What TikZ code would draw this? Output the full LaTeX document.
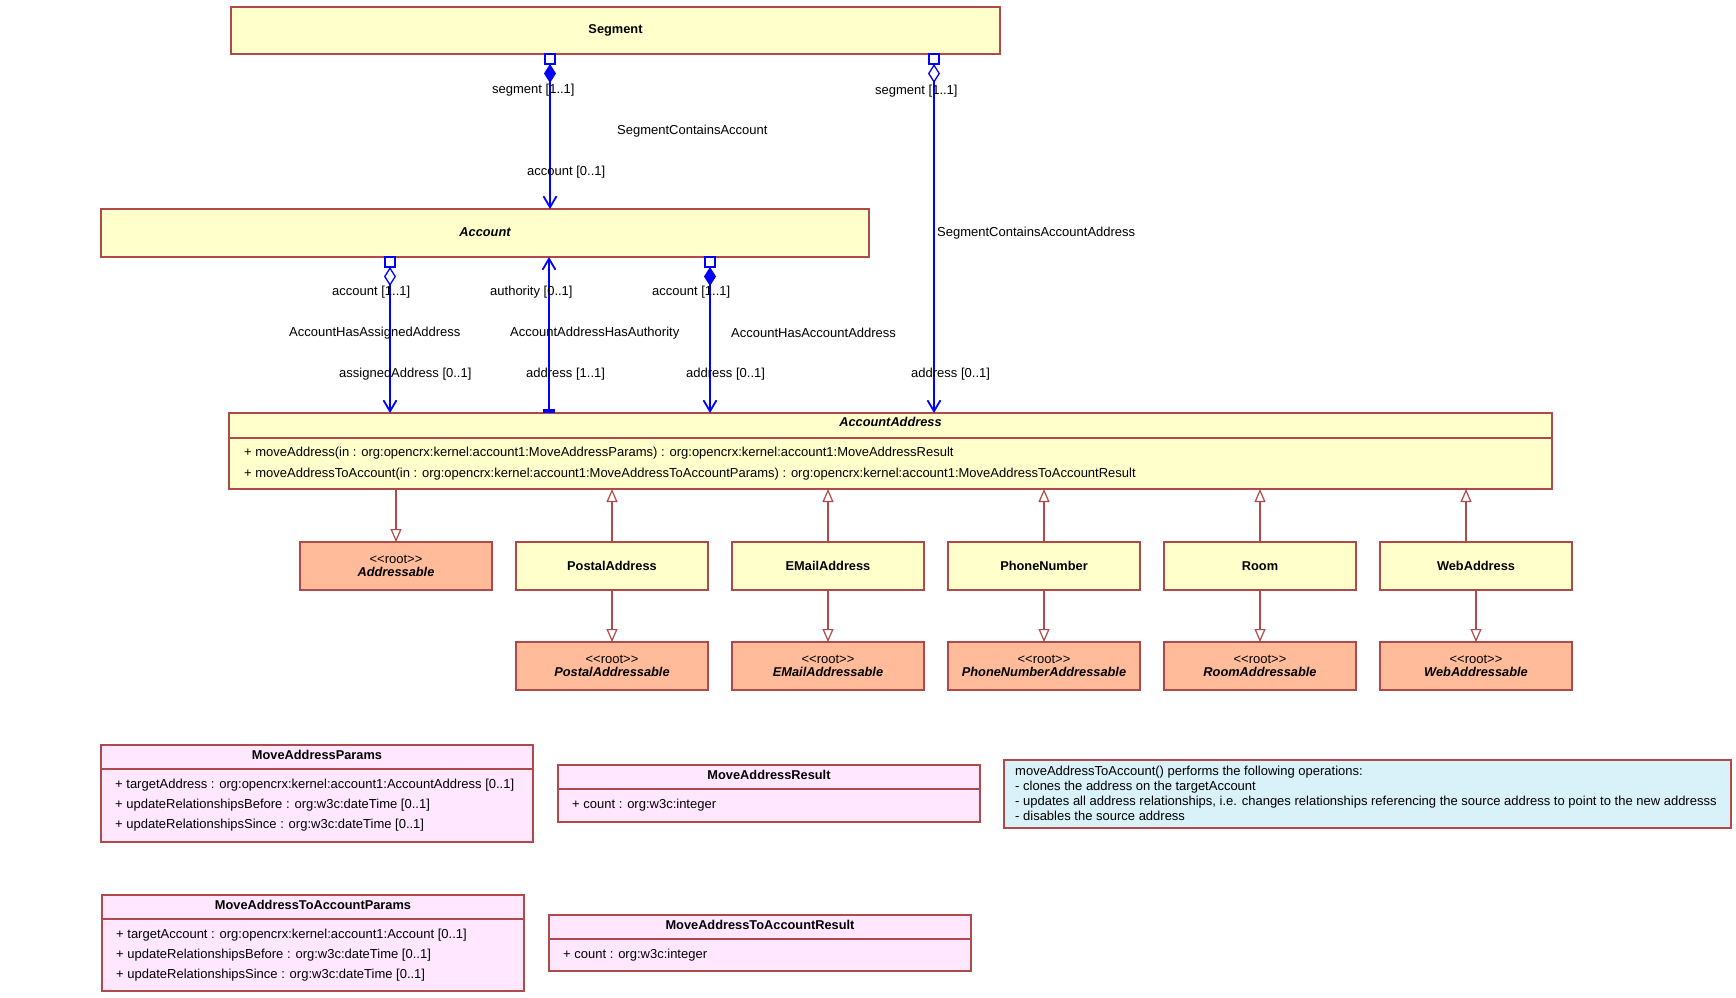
\documentclass[tikz,border=0pt]{standalone}
\usepackage{fontspec}
\setmainfont{Liberation Sans}
\usetikzlibrary{
  arrows.meta,
  positioning,
  calc
}
\definecolor{umlred}{HTML}{B04A4A}
\definecolor{classyellow}{HTML}{FFFFCC}
\definecolor{rootsalmon}{HTML}{FFBB9A}
\definecolor{structpink}{HTML}{FFE8FF}
\definecolor{notecyan}{HTML}{D9F1F8}
\definecolor{assocblue}{HTML}{0000FF}
\newcommand{\umlfont}{\fontsize{13}{15}\selectfont}
\newcommand{\clsfont}{\fontsize{12.8}{13}\selectfont}
\newcommand{\rootname}[1]{{\fontsize{13}{13}\selectfont{<}{<}root{>}{>}}\\\textbf{\textit{#1}}}

\begin{document}
\begin{tikzpicture}[
  x=1pt, y=1pt,
  node distance=52pt and 24pt,
  classbox/.style={
    draw=umlred, fill=classyellow, line width=1.2pt, outer sep=0pt, inner sep=0pt,
    minimum width=192pt, minimum height=48pt, align=center, font=\clsfont,
  },
  rootbox/.style={classbox, fill=rootsalmon},
  structbox/.style={classbox, fill=structpink},
  notebox/.style={classbox, fill=notecyan},
  clsname/.style={font=\clsfont\bfseries},
  absname/.style={font=\clsfont\bfseries\itshape},
  member/.style={font=\umlfont, anchor=west, inner sep=0pt},
  rolelabel/.style={font=\umlfont, anchor=west, inner sep=0pt},
  compsep/.style={draw=umlred, line width=1.2pt},
  assoc/.style={draw=assocblue, line width=1.3pt},
  qualsq/.style={
    draw=assocblue, fill=white, line width=1.2pt, minimum size=10pt,
    inner sep=0pt, outer sep=0pt, anchor=north,
  },
  compend/.style={{Diamond[length=19pt,width=12pt]}-{Straight Barb[length=11pt,width=13pt,line width=1.8pt]}},
  aggend/.style={{Diamond[open,length=19pt,width=12pt]}-{Straight Barb[length=11pt,width=13pt,line width=1.8pt]}},
  general/.style={draw=umlred, line width=1.2pt, -{Triangle[open,length=13pt,width=11pt]}},
]
\useasboundingbox (0,0) rectangle (1736,-997);

% Segment and Account
\node[classbox, clsname, minimum width=769pt, minimum height=47pt] (segment) at (615.5,-30.5) {\raisebox{1pt}{Segment}};
\node[classbox, absname, minimum width=768pt, minimum height=48pt] (account) at (485,-233) {\raisebox{2pt}{Account}};

% AccountAddress with its operations
\node[classbox, minimum width=1323pt, minimum height=76pt] (accaddr) at (890.5,-451) {};
\node[absname] (accaddr-title) at ([yshift=-9pt]accaddr.north) {AccountAddress};
\draw[compsep] ([yshift=-25pt]accaddr.north west) -- ([yshift=-25pt]accaddr.north east);
\node[member] (accaddr-op1) at ([xshift=15pt,yshift=-40pt]accaddr.north west)
  {+ moveAddress(in : org:opencrx:kernel:account1:MoveAddressParams) : org:opencrx:kernel:account1:MoveAddressResult};
\node[member] (accaddr-op2) at ([xshift=15pt,yshift=-61pt]accaddr.north west)
  {+ moveAddressToAccount(in : org:opencrx:kernel:account1:MoveAddressToAccountParams) : org:opencrx:kernel:account1:MoveAddressToAccountResult};

% address kinds
\node[rootbox] (addressable) at (396,-566) {\rootname{Addressable}};
\node[classbox, clsname, right=of addressable] (postal) {PostalAddress};
\node[classbox, clsname, right=of postal] (email) {EMailAddress};
\node[classbox, clsname, right=of email] (phone) {PhoneNumber};
\node[classbox, clsname, right=of phone] (room) {Room};
\node[classbox, clsname, right=of room] (web) {WebAddress};
\node[rootbox, below=of postal] (postalroot) {\rootname{PostalAddressable}};
\node[rootbox, below=of email] (emailroot) {\rootname{EMailAddressable}};
\node[rootbox, below=of phone] (phoneroot) {\rootname{PhoneNumberAddressable}};
\node[rootbox, below=of room] (roomroot) {\rootname{RoomAddressable}};
\node[rootbox, below=of web] (webroot) {\rootname{WebAddressable}};

% generalizations
\draw[general] (accaddr.south -| addressable) -- (addressable.north);
\draw[general] (postal.north) -- (postal.north |- accaddr.south);
\draw[general] (email.north) -- (email.north |- accaddr.south);
\draw[general] (phone.north) -- (phone.north |- accaddr.south);
\draw[general] (room.north) -- (room.north |- accaddr.south);
\draw[general] ([xshift=-10pt]web.north) -- ([xshift=-10pt]web.north |- accaddr.south);
\draw[general] (postal.south) -- (postalroot.north);
\draw[general] (email.south) -- (emailroot.north);
\draw[general] (phone.south) -- (phoneroot.north);
\draw[general] (room.south) -- (roomroot.north);
\draw[general] (web.south) -- (webroot.north);

% associations
\node[qualsq] (segq1) at (550,0 |- segment.south) {};
\node[qualsq] (segq2) at (934,0 |- segment.south) {};
\node[qualsq] (accq1) at (390,0 |- account.south) {};
\node[qualsq] (accq2) at (710,0 |- account.south) {};
\draw[assoc, compend] (segq1.south) -- (segq1.south |- account.north);
\draw[assoc, aggend] (segq2.south) -- (segq2.south |- accaddr.north);
\draw[assoc, aggend] (accq1.south) -- (accq1.south |- accaddr.north);
\draw[assoc, compend] (accq2.south) -- (accq2.south |- accaddr.north);
\draw[assoc, {Rectangle[length=4pt,width=12pt]}-{Straight Barb[length=11pt,width=13pt,line width=1.8pt]}]
  (549,0 |- accaddr.north) -- (549,0 |- account.south);

% association labels
\node[rolelabel] (l-seg1) at (492,-90) {segment [1..1]};
\node[rolelabel] (l-seg2) at (875,-91) {segment [1..1]};
\node[rolelabel] (l-sca) at (617,-131) {SegmentContainsAccount};
\node[rolelabel] (l-acc0) at (527,-172) {account [0..1]};
\node[rolelabel] (l-scaa) at (937,-233) {SegmentContainsAccountAddress};
\node[rolelabel] (l-acc1) at (332,-292) {account [1..1]};
\node[rolelabel] (l-auth) at (490,-292) {authority [0..1]};
\node[rolelabel] (l-acc2) at (652,-292) {account [1..1]};
\node[rolelabel] (l-ahasa) at (289,-333) {AccountHasAssignedAddress};
\node[rolelabel] (l-aahau) at (510,-333) {AccountAddressHasAuthority};
\node[rolelabel] (l-ahaa) at (731,-333) {AccountHasAccountAddress};
\node[rolelabel] (l-assig) at (339,-374) {assignedAddress [0..1]};
\node[rolelabel] (l-addr1) at (526,-374) {address [1..1]};
\node[rolelabel] (l-addr2) at (686,-374) {address [0..1]};
\node[rolelabel] (l-addr3) at (911,-374) {address [0..1]};

% operation parameter and result structures
\node[structbox, minimum width=432pt, minimum height=97pt] (mapar) at (317,-793.5) {};
\node[clsname] (mapar-title) at ([yshift=-10pt]mapar.north) {MoveAddressParams};
\draw[compsep] ([yshift=-24pt]mapar.north west) -- ([yshift=-24pt]mapar.north east);
\node[member] (mapar-a1) at ([xshift=14pt,yshift=-40pt]mapar.north west) {+ targetAddress : org:opencrx:kernel:account1:AccountAddress [0..1]};
\node[member] (mapar-a2) at ([xshift=14pt,yshift=-60pt]mapar.north west) {+ updateRelationshipsBefore : org:w3c:dateTime [0..1]};
\node[member] (mapar-a3) at ([xshift=14pt,yshift=-80pt]mapar.north west) {+ updateRelationshipsSince : org:w3c:dateTime [0..1]};

\node[structbox, minimum width=422pt, minimum height=57pt] (mares) at (769,-793.5) {};
\node[clsname] (mares-title) at ([yshift=-10pt]mares.north) {MoveAddressResult};
\draw[compsep] ([yshift=-24pt]mares.north west) -- ([yshift=-24pt]mares.north east);
\node[member] (mares-a1) at ([xshift=14pt,yshift=-40pt]mares.north west) {+ count : org:w3c:integer};

\node[structbox, minimum width=422pt, minimum height=96pt] (matapar) at (313,-943) {};
\node[clsname] (matapar-title) at ([yshift=-10pt]matapar.north) {MoveAddressToAccountParams};
\draw[compsep] ([yshift=-24pt]matapar.north west) -- ([yshift=-24pt]matapar.north east);
\node[member] (matapar-a1) at ([xshift=14pt,yshift=-40pt]matapar.north west) {+ targetAccount : org:opencrx:kernel:account1:Account [0..1]};
\node[member] (matapar-a2) at ([xshift=14pt,yshift=-60pt]matapar.north west) {+ updateRelationshipsBefore : org:w3c:dateTime [0..1]};
\node[member] (matapar-a3) at ([xshift=14pt,yshift=-80pt]matapar.north west) {+ updateRelationshipsSince : org:w3c:dateTime [0..1]};

\node[structbox, minimum width=422pt, minimum height=56pt] (matares) at (760,-943) {};
\node[clsname] (matares-title) at ([yshift=-10pt]matares.north) {MoveAddressToAccountResult};
\draw[compsep] ([yshift=-24pt]matares.north west) -- ([yshift=-24pt]matares.north east);
\node[member] (matares-a1) at ([xshift=14pt,yshift=-40pt]matares.north west) {+ count : org:w3c:integer};

% note
\node[notebox, minimum width=727pt, minimum height=68pt] (note) at (1367.5,-794) {};
\node[member, anchor=north west, align=left, font=\fontsize{13}{15}\selectfont] (note-text) at ([xshift=11pt,yshift=-6pt]note.north west)
  {moveAddressToAccount() performs the following operations:\\
   - clones the address on the targetAccount\\
   - updates all address relationships, i.e. changes relationships referencing the source address to point to the new addresss\\
   - disables the source address};

\end{tikzpicture}
\end{document}
